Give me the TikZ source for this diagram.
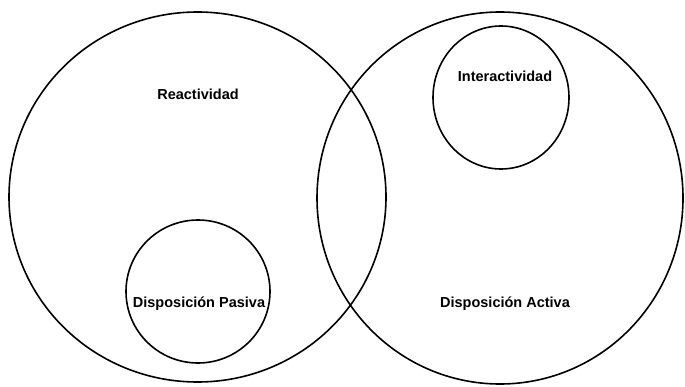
\documentclass[tikz,border=0pt]{standalone}
\usepackage{fontspec}
\setmainfont{Liberation Sans}
\usetikzlibrary{shapes.geometric}
\begin{document}
\begin{tikzpicture}[x=1pt,y=1pt,
  setshape/.style={ellipse, draw=black, line width=1.6pt, inner sep=0pt},
  setlabel/.style={font=\bfseries\fontsize{14.5}{16}\selectfont, inner sep=0pt}]
  \useasboundingbox[fill=white] (0,0) rectangle (685,386);
  % two overlapping sets
  \node[setshape, minimum width=377pt, minimum height=370pt] (reac) at (197.5,189) {};
  \node[setshape, minimum width=366pt, minimum height=372pt] (act) at (500,188) {};
  % subsets
  \node[setshape, minimum width=144pt, minimum height=143pt] (pas) at (198,94.5) {};
  \node[setshape, minimum width=136pt, minimum height=143pt] (inter) at (501,288.5) {};
  % labels
  \node[setlabel] (lreac) at (198,292) {Reactividad};
  \node[setlabel] (linter) at (505,310) {Interactividad};
  \node[setlabel] (lpas) at (199,82) {Disposición Pasiva};
  \node[setlabel] (lact) at (505,82) {Disposición Activa};
\end{tikzpicture}
\end{document}
